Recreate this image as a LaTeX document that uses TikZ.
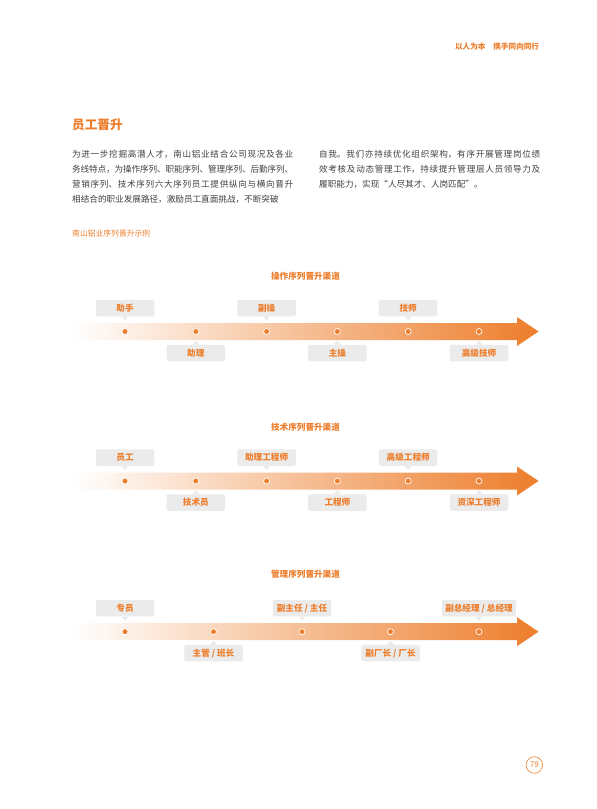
\documentclass[tikz,border=0pt]{standalone}
\usepackage{fontspec}
\setmainfont{Noto Sans CJK SC}
\usetikzlibrary{calc}
\XeTeXlinebreaklocale "zh"
\XeTeXlinebreakskip=0pt plus 1pt minus 0.5pt
\definecolor{brandorange}{RGB}{237,125,43}
\definecolor{boxgray}{RGB}{235,235,235}
\definecolor{bodygray}{RGB}{64,64,64}
\tikzset{
  stagebox/.style={fill=boxgray, rounded corners=2pt, minimum width=58.5pt,
    minimum height=16.5pt, inner xsep=3.5pt, inner ysep=0pt, text=brandorange,
    font=\bfseries\fontsize{8.6}{10}\selectfont},
  stagedot/.style={circle, fill=brandorange, draw=white, line width=0.7pt,
    inner sep=0pt, minimum size=6pt},
  tracktitle/.style={text=brandorange, inner sep=0pt, font=\bfseries\fontsize{8.6}{10}\selectfont},
  bodytext/.style={text=bodygray, inner sep=0pt, text width=221pt, align=justify,
    font=\fontsize{8.6}{15}\selectfont},
}

\begin{document}
\begin{tikzpicture}[x=1pt, y=-1pt]
  \useasboundingbox[fill=white] (0,0) rectangle (597,809);

  % Header and intro
  \node[anchor=east, inner sep=0pt, text=brandorange, font=\bfseries\fontsize{7.6}{9}\selectfont]
    (motto) at (539.3,46.7) {以人为本\hspace{8pt}携手同向同行};
  \node[anchor=west, inner sep=0pt, text=brandorange, font=\bfseries\fontsize{12.6}{14}\selectfont]
    (heading) at (72,125) {员工晋升};
  \node[bodytext, anchor=north west] (introleft) at (72,150.5)
    {为进一步挖掘高潜人才，南山铝业结合公司现况及各业\linebreak
     务线特点，为操作序列、职能序列、管理序列、后勤序列、\linebreak
     营销序列、技术序列六大序列员工提供纵向与横向晋升\linebreak
     相结合的职业发展路径，激励员工直面挑战，不断突破};
  \node[bodytext, anchor=north west] (introright) at (319,150.5)
    {自我。我们亦持续优化组织架构，有序开展管理岗位绩\linebreak
     效考核及动态管理工作，持续提升管理层人员领导力及\linebreak
     履职能力，实现“人尽其才、人岗匹配”。};
  \node[anchor=west, inner sep=0pt, text=brandorange, font=\fontsize{7.8}{9}\selectfont]
    (caption) at (72,233.3) {南山铝业序列晋升示例};

  % Operation track
  \node[tracktitle] (optitle) at (305.5,276.7) {操作序列晋升渠道};
  \shade[left color=white, right color=brandorange]
    (72,323) -- (517,323) -- (517,317) -- (538.5,331.5) -- (517,346) -- (517,340) -- (72,340) -- cycle;
  \foreach \lbl [count=\i, evaluate=\i as \x using 125+(\i-1)*70.8] in {助手,助理,副操,主操,技师,高级技师} {
    \ifodd\i \def\by{-23.5}\def\side{south}\else \def\by{21.5}\def\side{north}\fi
    \node[stagedot] (op\i) at (\x,331.5) {};
    \node[stagebox] (opbox\i) at (\x,331.5+\by) {\lbl};
    \fill[boxgray] ([xshift=-3.5pt]opbox\i.\side) -- ([xshift=3.5pt]opbox\i.\side)
      -- ($(opbox\i.\side)!4pt!(op\i)$) -- cycle;
  }

  % Technical track
  \node[tracktitle] (techtitle) at (305.5,427.7) {技术序列晋升渠道};
  \shade[left color=white, right color=brandorange]
    (72,472.5) -- (517,472.5) -- (517,466.5) -- (538.5,481) -- (517,495.5) -- (517,489.5) -- (72,489.5) -- cycle;
  \foreach \lbl [count=\i, evaluate=\i as \x using 125+(\i-1)*70.8] in {员工,技术员,助理工程师,工程师,高级工程师,资深工程师} {
    \ifodd\i \def\by{-23.5}\def\side{south}\else \def\by{21.5}\def\side{north}\fi
    \node[stagedot] (tech\i) at (\x,481) {};
    \node[stagebox] (techbox\i) at (\x,481+\by) {\lbl};
    \fill[boxgray] ([xshift=-3.5pt]techbox\i.\side) -- ([xshift=3.5pt]techbox\i.\side)
      -- ($(techbox\i.\side)!4pt!(tech\i)$) -- cycle;
  }

  % Management track
  \node[tracktitle] (mgmttitle) at (305.5,574.3) {管理序列晋升渠道};
  \shade[left color=white, right color=brandorange]
    (72,623.2) -- (517,623.2) -- (517,617.2) -- (538.5,631.7) -- (517,646.2) -- (517,640.2) -- (72,640.2) -- cycle;
  \foreach \lbl [count=\i, evaluate=\i as \x using 125+(\i-1)*88.5] in {专员,主管 / 班长,副主任 / 主任,副厂长 / 厂长,副总经理 / 总经理} {
    \ifodd\i \def\by{-23.5}\def\side{south}\else \def\by{21.5}\def\side{north}\fi
    \node[stagedot] (mgmt\i) at (\x,631.7) {};
    \node[stagebox] (mgmtbox\i) at (\x,631.7+\by) {\lbl};
    \fill[boxgray] ([xshift=-3.5pt]mgmtbox\i.\side) -- ([xshift=3.5pt]mgmtbox\i.\side)
      -- ($(mgmtbox\i.\side)!4pt!(mgmt\i)$) -- cycle;
  }

  % Page number
  \node[circle, draw=brandorange, line width=0.6pt, minimum size=16.5pt, inner sep=0pt,
    text=brandorange, font=\fontsize{8}{8}\selectfont] (pagenum) at (534.3,765) {79};
\end{tikzpicture}
\end{document}
